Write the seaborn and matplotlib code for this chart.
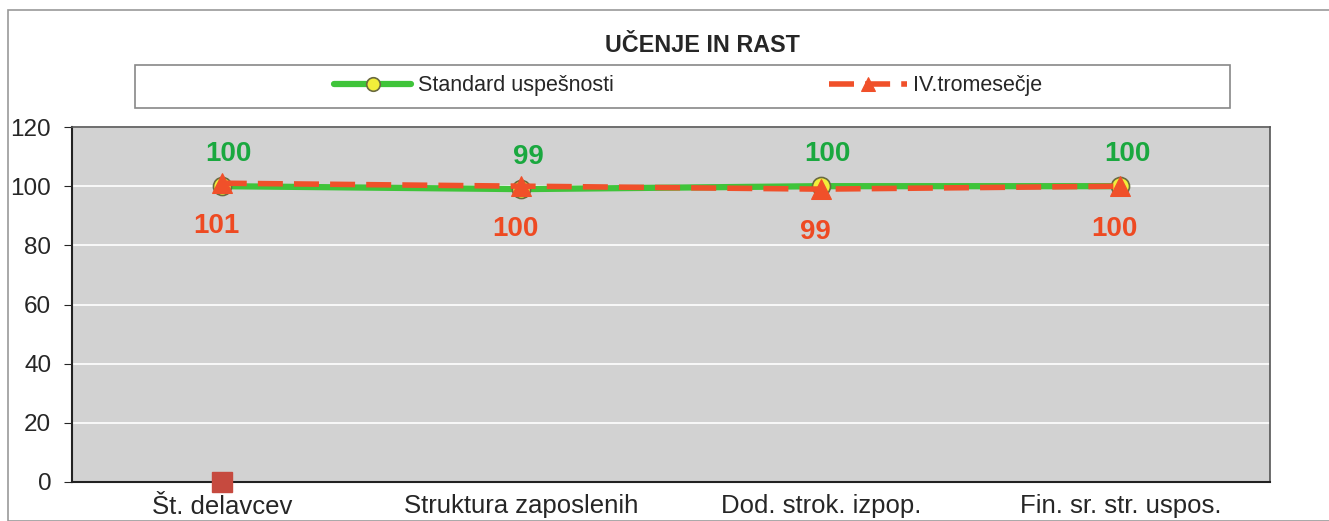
import pandas as pd
import numpy as np
import matplotlib.pyplot as plt
import seaborn as sns
from matplotlib.patches import Rectangle

# podatki
categories = ['Št. delavcev', 'Struktura zaposlenih', 'Dod. strok. izpop.', 'Fin. sr. str. uspos.']
standard = [100, 99, 100, 100]
tromesecje = [101, 100, 99, 100]
extra_cat = ['Št. delavcev']
extra_val = [0]

sns.set_style('white')
plt.rcParams['font.family'] = ['Liberation Sans', 'DejaVu Sans']

df = pd.DataFrame({'kat': categories, 'Standard uspešnosti': standard, 'IV.tromesečje': tromesecje})

fig = plt.figure(figsize=(13.29, 5.21), dpi=100)
ax = fig.add_axes([72/1329, 1-482/521, (1270-72)/1329, (482-127)/521])
ax.set_facecolor('#d2d2d2')

green = '#3fc43a'
red = '#f0502a'

sns.lineplot(data=df, x='kat', y='Standard uspešnosti', ax=ax, color=green, lw=4.5,
             marker='o', markersize=13, markerfacecolor='#f2ee3a', markeredgecolor='#6a6a40',
             markeredgewidth=1.2, label='Standard uspešnosti', sort=False, zorder=3)
sns.lineplot(data=df, x='kat', y='IV.tromesečje', ax=ax, color=red, lw=4, linestyle=(0, (4.5, 2)),
             marker='^', markersize=14, markerfacecolor=red, markeredgecolor=red,
             label='IV.tromesečje', sort=False, zorder=4)
ax.plot(extra_cat, extra_val, marker='s', markersize=15, color='#c64a3f', ls='none',
        clip_on=False, zorder=5)

for i, (g, r) in enumerate(zip(standard, tromesecje)):
    ax.annotate(str(g), (i, g), xytext=(5, 23), textcoords='offset points', ha='center',
                va='center', color='#1aa83f', fontsize=20, fontweight='bold')
    ax.annotate(str(r), (i, r), xytext=(-4, -31), textcoords='offset points', ha='center',
                va='center', color='#ee4a22', fontsize=20, fontweight='bold')

ax.set_xlim(-0.5, 3.5)
ax.set_ylim(0, 120)
ax.set_yticks(np.arange(0, 121, 20))
ax.yaxis.grid(True, color='white', lw=1.2)
ax.set_axisbelow(True)
ax.set_xlabel('')
ax.set_ylabel('')
ax.tick_params(axis='y', labelsize=17.5, length=6, direction='out', left=True, pad=9)
ax.tick_params(axis='x', labelsize=18.5, length=0, pad=9)
for s in ['left', 'bottom']:
    ax.spines[s].set_color('#222222')
    ax.spines[s].set_linewidth(1.5)
for s in ['top', 'right']:
    ax.spines[s].set_color('#555555')
    ax.spines[s].set_linewidth(1.2)

ax.get_legend().remove()
handles, labels = ax.get_legend_handles_labels()

# okvir legende
fig.patches.append(Rectangle((135/1329, 1-108/521), (1230-135)/1329, 43/521,
                             transform=fig.transFigure, facecolor='white',
                             edgecolor='#888888', lw=1.2))
fig.legend(handles, labels, loc='center', bbox_to_anchor=(688/1329, 1-86/521), ncol=2,
           frameon=False, fontsize=15.5, handlelength=3.6, columnspacing=10, handletextpad=0.3,
           markerscale=0.75)

# zunanji okvir
fig.patches.append(Rectangle((8/1329, 0), 1, 1-10/521, transform=fig.transFigure,
                             facecolor='none', edgecolor='#999999', lw=1.2))

fig.text(702/1329, 1-45/521, 'UČENJE IN RAST', ha='center', va='center',
         fontsize=16.8, fontweight='bold')

plt.savefig('out.png', dpi=100)
plt.close()
